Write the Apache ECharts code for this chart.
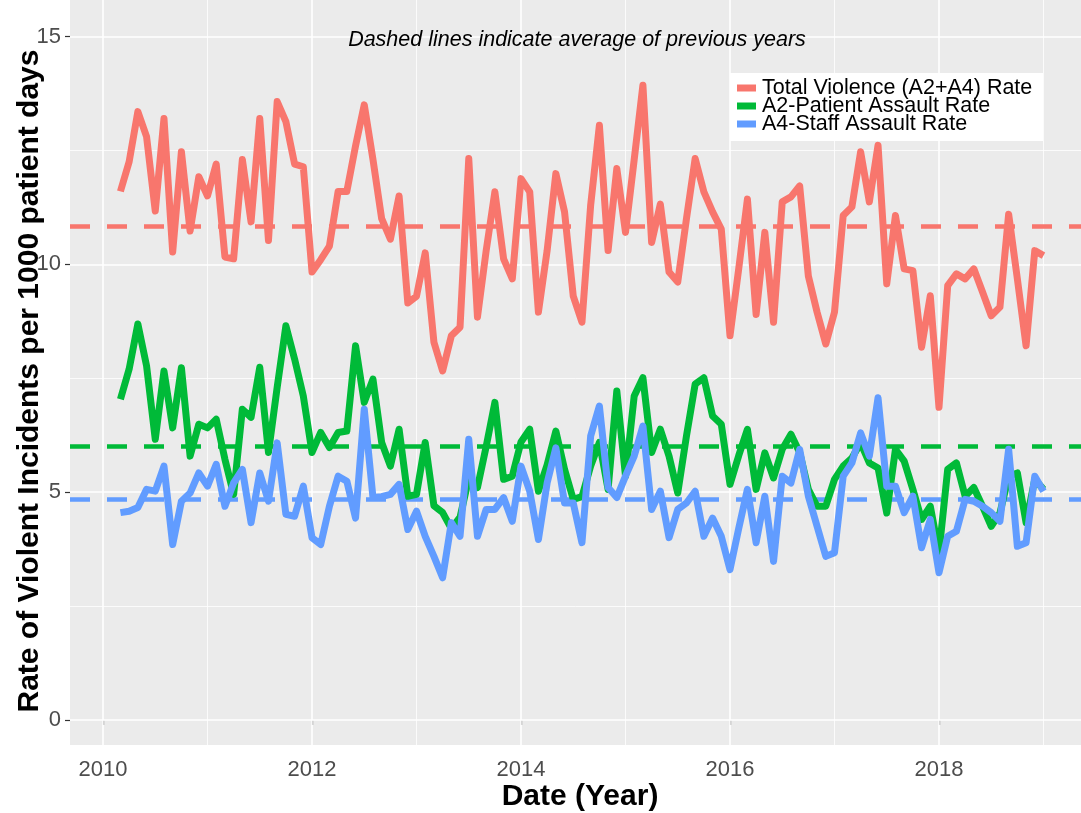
<!DOCTYPE html>
<html>
<head>
<meta charset="utf-8">
<script src="https://cdn.jsdelivr.net/npm/echarts@6/dist/echarts.min.js"></script>
<style>
  html, body { margin: 0; padding: 0; background: #ffffff; }
  #chart { width: 1081px; height: 813px; }
</style>
</head>
<body>
<div id="chart"></div>
<script>
// Monthly violence rates per 1000 patient days, March 2010 onwards
const startYear = 2010;
const startMonth = 3;

const seriesNames = ['Total Violence (A2+A4) Rate', 'A2-Patient Assault Rate', 'A4-Staff Assault Rate'];

const totalRate = [
  11.6, 12.25, 13.35, 12.8, 11.17, 13.2, 10.27, 12.47, 10.73, 11.92,
  11.5, 12.2, 10.16, 10.12, 12.3, 10.93, 13.2, 10.52, 13.57, 13.13,
  12.2, 12.14, 9.83, 10.1, 10.4, 11.6, 11.6, 12.6, 13.5, 12.3,
  11.0, 10.55, 11.5, 9.15, 9.3, 10.25, 8.29, 7.66, 8.43, 8.62,
  12.32, 8.84, 10.3, 11.59, 10.12, 9.68, 11.88, 11.59, 8.95, 10.3,
  11.99, 11.15, 9.3, 8.73, 11.3, 13.05, 10.3, 12.1, 10.7, 12.3,
  13.93, 10.48, 11.32, 9.83, 9.61, 11.0, 12.32, 11.59, 11.15, 10.77,
  8.43, 9.9, 11.43, 8.9, 10.7, 8.73, 11.37, 11.48, 11.72, 9.74,
  8.95, 8.25, 8.95, 11.07, 11.26, 12.47, 11.37, 12.61, 9.57, 11.07,
  9.9, 9.86, 8.18, 9.31, 6.86, 9.53, 9.79, 9.68, 9.9, 9.39,
  8.87, 9.06, 11.1, 9.68, 8.21, 10.3, 10.19
];

const patientRate = [
  7.04, 7.7, 8.69, 7.77, 6.16, 7.66, 6.41, 7.73, 5.79, 6.49,
  6.41, 6.6, 5.72, 4.95, 6.82, 6.64, 7.74, 5.87, 7.3, 8.65,
  7.92, 7.11, 5.87, 6.31, 5.98, 6.31, 6.34, 8.21, 6.97, 7.48,
  6.09, 5.57, 6.38, 4.91, 4.95, 6.09, 4.7, 4.55, 4.2, 4.45,
  5.3, 5.1, 6.0, 6.97, 5.28, 5.35, 6.1, 6.38, 5.02, 5.6,
  6.34, 5.5, 4.84, 4.9, 5.57, 6.09, 5.06, 7.22, 5.35, 7.11,
  7.51, 5.87, 6.38, 5.79, 4.98, 6.23, 7.37, 7.51, 6.67, 6.49,
  5.17, 5.8, 6.38, 5.06, 5.86, 5.31, 5.94, 6.27, 5.87, 5.06,
  4.69, 4.69, 5.28, 5.57, 5.75, 6.08, 5.64, 5.53, 4.54, 5.94,
  5.68, 5.06, 4.4, 4.69, 3.67, 5.5, 5.64, 4.91, 5.1, 4.69,
  4.25, 4.54, 5.35, 5.42, 4.33, 5.28, 5.06
];

const staffRate = [
  4.55, 4.58, 4.66, 5.06, 5.02, 5.57, 3.85, 4.8, 4.98, 5.42,
  5.13, 5.61, 4.69, 5.2, 5.5, 4.33, 5.42, 4.8, 6.08, 4.51,
  4.47, 5.13, 4.0, 3.85, 4.69, 5.35, 5.24, 4.43, 6.82, 4.88,
  4.9, 4.95, 5.17, 4.18, 4.58, 4.03, 3.59, 3.12, 4.33, 4.03,
  6.16, 4.03, 4.62, 4.62, 4.88, 4.36, 5.57, 5.02, 3.96, 5.2,
  5.97, 4.76, 4.76, 3.89, 6.23, 6.89, 5.1, 4.88, 5.35, 5.79,
  6.45, 4.62, 5.02, 4.0, 4.62, 4.76, 5.02, 4.03, 4.43, 4.03,
  3.3, 4.2, 5.06, 3.89, 4.91, 3.48, 5.35, 5.2, 5.94, 4.91,
  4.25, 3.59, 3.67, 5.35, 5.64, 6.3, 5.79, 7.07, 5.13, 5.13,
  4.55, 4.91, 3.78, 4.4, 3.23, 4.03, 4.14, 4.84, 4.8, 4.69,
  4.55, 4.36, 5.94, 3.81, 3.89, 5.35, 5.02
];

// Averages of previous years (dashed reference lines)
const averageRates = [10.84, 6.01, 4.84];

const seriesColors = ['#F8766D', '#00BA38', '#619CFF'];

const xMajorTicks = [2010, 2012, 2014, 2016, 2018];
const xMinorTicks = [2011, 2013, 2015, 2017, 2019];
const yMajorTicks = [0, 5, 10, 15];
const yMinorTicks = [2.5, 7.5, 12.5];

const xRange = [2009.684, 2019.359];
const yRange = [-0.55, 15.8];

const FONT = '"Liberation Sans", Arial, sans-serif';

// decimal-year position of each monthly observation
function monthPos(i) {
  return startYear + (startMonth - 1 + i) / 12;
}
function toPoints(values) {
  return values.map((v, i) => [monthPos(i), v]);
}

const gridLines = [];
xMajorTicks.forEach(v => gridLines.push({ xAxis: v, lineStyle: { color: '#ffffff', width: 1.6, type: 'solid' } }));
xMinorTicks.forEach(v => gridLines.push({ xAxis: v, lineStyle: { color: '#ffffff', width: 0.8, type: 'solid' } }));
yMajorTicks.forEach(v => gridLines.push({ yAxis: v, lineStyle: { color: '#ffffff', width: 1.6, type: 'solid' } }));
yMinorTicks.forEach(v => gridLines.push({ yAxis: v, lineStyle: { color: '#ffffff', width: 0.8, type: 'solid' } }));

const averageLines = averageRates.map((v, k) => ({
  yAxis: v,
  lineStyle: { color: seriesColors[k], width: 4.5, type: [20, 17], cap: 'butt' }
}));

const dataSeries = [totalRate, patientRate, staffRate].map((vals, k) => ({
  name: seriesNames[k],
  type: 'line',
  data: toPoints(vals),
  showSymbol: false,
  symbol: 'none',
  silent: true,
  z: 5,
  color: seriesColors[k],
  lineStyle: { color: seriesColors[k], width: 7, join: 'round', cap: 'butt' }
}));

// legend box: white panel with a colour key and label per series
const legendBox = { x: 730, y: 73, width: 313, height: 68 };
const legendRowY = [88, 106, 124];
const legendGraphics = [
  { type: 'rect', shape: legendBox, style: { fill: '#ffffff' }, z: 20 }
];
seriesNames.forEach((name, k) => {
  legendGraphics.push({
    type: 'rect', z: 21,
    shape: { x: 737, y: legendRowY[k] - 3.5, width: 19, height: 7 },
    style: { fill: seriesColors[k] }
  });
  legendGraphics.push({
    type: 'text', z: 21,
    style: {
      text: name, x: 762, y: legendRowY[k], align: 'left', verticalAlign: 'middle',
      font: '21.5px ' + FONT, fill: '#000000'
    }
  });
});

const chart = echarts.init(document.getElementById('chart'), null, { renderer: 'canvas' });

chart.setOption({
  animation: false,
  backgroundColor: '#ffffff',
  grid: {
    left: 70, right: 0, top: 0, bottom: 68,
    show: true, backgroundColor: '#EBEBEB', borderWidth: 0
  },
  xAxis: {
    type: 'value',
    min: xRange[0], max: xRange[1],
    axisLine: { show: false },
    splitLine: { show: false },
    axisTick: { show: true, length: 5, customValues: xMajorTicks, lineStyle: { color: '#333333', width: 1.2 } },
    axisLabel: {
      customValues: xMajorTicks,
      formatter: v => String(v),
      fontFamily: FONT, fontSize: 22, color: '#4D4D4D', margin: 14
    }
  },
  yAxis: {
    type: 'value',
    min: yRange[0], max: yRange[1],
    axisLine: { show: false },
    splitLine: { show: false },
    axisTick: { show: true, length: 5, customValues: yMajorTicks, lineStyle: { color: '#333333', width: 1.2 } },
    axisLabel: {
      customValues: yMajorTicks,
      formatter: v => String(v),
      fontFamily: FONT, fontSize: 22, color: '#4D4D4D', margin: 9
    }
  },
  graphic: [
    {
      type: 'text', z: 20,
      style: {
        text: 'Dashed lines indicate average of previous years',
        x: 577, y: 40, align: 'center', verticalAlign: 'middle',
        font: 'italic 21.5px ' + FONT, fill: '#000000'
      }
    },
    {
      type: 'text',
      style: {
        text: 'Date (Year)', x: 580, y: 797, align: 'center', verticalAlign: 'middle',
        font: 'bold 30px ' + FONT, fill: '#000000'
      }
    },
    {
      type: 'text',
      rotation: Math.PI / 2,
      x: 30, y: 381,
      style: {
        text: 'Rate of Violent Incidents per 1000 patient days', x: 0, y: 0,
        align: 'center', verticalAlign: 'middle',
        font: 'bold 30px ' + FONT, fill: '#000000'
      }
    }
  ].concat(legendGraphics),
  series: [
    {
      name: 'panel-grid',
      type: 'line',
      data: [],
      silent: true,
      z: 1,
      markLine: { silent: true, symbol: 'none', label: { show: false }, animation: false, data: gridLines }
    },
    {
      name: 'average-lines',
      type: 'line',
      data: [],
      silent: true,
      z: 2,
      markLine: { silent: true, symbol: 'none', label: { show: false }, animation: false, data: averageLines }
    }
  ].concat(dataSeries)
});
</script>
</body>
</html>
